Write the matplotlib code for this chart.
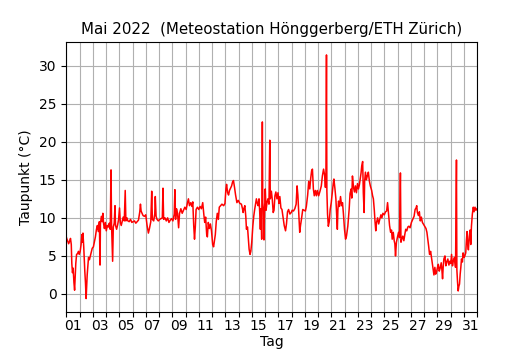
import numpy as np
import matplotlib
matplotlib.use("Agg")
import matplotlib.pyplot as plt

# Tag seit 1. Mai 00:00 und Taupunkt in °C
tage = [
    0.00, 0.05, 0.10, 0.18, 0.25, 0.32, 0.38, 0.42, 0.47, 0.52, 0.58, 0.63, 0.68, 0.72, 0.78, 0.85, 0.92, 0.98,
    1.05, 1.12, 1.18, 1.22, 1.26, 1.32, 1.36, 1.40, 1.45, 1.50, 1.54, 1.58, 1.62, 1.68, 1.75, 1.82, 1.90, 1.96,
    2.05, 2.12, 2.20, 2.28, 2.35, 2.42, 2.50, 2.55, 2.58, 2.65, 2.72, 2.76, 2.82, 2.88, 2.95,
    3.02, 3.10, 3.18, 3.25, 3.32, 3.38, 3.42, 3.50, 3.55, 3.62, 3.68, 3.72, 3.80, 3.88, 3.95,
    4.02, 4.08, 4.15, 4.22, 4.30, 4.38, 4.45, 4.50, 4.58, 4.65, 4.75, 4.85, 4.95,
    5.05, 5.15, 5.25, 5.35, 5.45, 5.55, 5.60, 5.65, 5.72, 5.80, 5.90,
    6.00, 6.10, 6.20, 6.28, 6.38, 6.45, 6.50, 6.60, 6.68, 6.72, 6.78, 6.85, 6.95,
    7.05, 7.15, 7.25, 7.30, 7.35, 7.45, 7.55, 7.65, 7.75, 7.85, 7.95,
    8.05, 8.15, 8.20, 8.25, 8.32, 8.40, 8.48, 8.55, 8.65, 8.75, 8.85, 8.95,
    9.05, 9.15, 9.22, 9.30, 9.40, 9.48, 9.55, 9.62, 9.68, 9.74, 9.80, 9.90,
    10.00, 10.10, 10.20, 10.30, 10.38, 10.45, 10.52, 10.60, 10.65, 10.72, 10.80, 10.88, 10.96,
    11.05, 11.12, 11.18, 11.25, 11.32, 11.40, 11.48, 11.55, 11.65, 11.75, 11.88, 11.98,
    12.05, 12.10, 12.18, 12.25, 12.32, 12.40, 12.48, 12.55, 12.62, 12.70, 12.78, 12.88, 12.98,
    13.10, 13.22, 13.30, 13.35, 13.42, 13.48, 13.55, 13.60, 13.68, 13.75, 13.80, 13.87, 13.93,
    14.00, 14.08, 14.15, 14.22, 14.30, 14.35, 14.42, 14.48, 14.55, 14.60, 14.65, 14.70, 14.75, 14.80,
    14.83, 14.88, 14.92, 14.96,
    15.02, 15.08, 15.15, 15.22, 15.30, 15.36, 15.40, 15.48, 15.55, 15.62, 15.68, 15.75, 15.82, 15.90, 15.98,
    16.05, 16.12, 16.20, 16.28, 16.35, 16.45, 16.55, 16.62, 16.70, 16.78, 16.88, 16.98,
    17.05, 17.15, 17.25, 17.35, 17.42, 17.48, 17.55, 17.62, 17.68, 17.75, 17.85, 17.95,
    18.05, 18.12, 18.22, 18.30, 18.38, 18.45, 18.52, 18.58, 18.65, 18.72, 18.80, 18.88, 18.95,
    19.05, 19.15, 19.25, 19.33, 19.42, 19.50, 19.56, 19.60, 19.64, 19.67, 19.72, 19.78, 19.85, 19.92,
    20.00, 20.08, 20.15, 20.20, 20.28, 20.35, 20.42, 20.46, 20.50, 20.55, 20.62, 20.70, 20.78, 20.85, 20.92,
    21.00, 21.08, 21.15, 21.25, 21.35, 21.42, 21.50, 21.55, 21.60, 21.68, 21.75, 21.82, 21.90, 21.98,
    22.05, 22.12, 22.18, 22.25, 22.30, 22.37, 22.42, 22.48, 22.52, 22.58, 22.65, 22.72, 22.80, 22.88, 22.95,
    23.05, 23.12, 23.18, 23.25, 23.30, 23.36, 23.42, 23.50, 23.58, 23.66, 23.75, 23.82, 23.90,
    24.00, 24.10, 24.18, 24.25, 24.32, 24.40, 24.48, 24.55, 24.60, 24.68, 24.75, 24.80, 24.85, 24.92,
    25.00, 25.08, 25.15, 25.22, 25.26, 25.32, 25.40, 25.48, 25.55, 25.62, 25.70, 25.78, 25.85, 25.95,
    26.05, 26.15, 26.25, 26.33, 26.40, 26.45, 26.50, 26.58, 26.65, 26.72, 26.80, 26.88, 26.95,
    27.05, 27.15, 27.22, 27.30, 27.35, 27.42, 27.50, 27.58, 27.65, 27.70, 27.75, 27.82, 27.88, 27.95,
    28.02, 28.08, 28.15, 28.22, 28.30, 28.35, 28.40, 28.45, 28.50, 28.58, 28.65, 28.72, 28.80, 28.88, 28.95,
    29.02, 29.08, 29.15, 29.22, 29.30, 29.38, 29.45, 29.48, 29.53, 29.58, 29.63, 29.68, 29.73, 29.78, 29.83,
    29.90, 29.95,
    30.02, 30.08, 30.15, 30.20, 30.25, 30.30, 30.35, 30.42, 30.48, 30.53, 30.58, 30.65, 30.72, 30.78, 30.85,
    30.92, 31.00,
]
taupunkt = [
    7.5, 7.2, 7.0, 6.6, 6.9, 7.3, 6.5, 4.0, 2.8, 3.4, 1.5, 0.5, 2.5, 4.0, 5.2, 5.3, 5.6, 5.2,
    5.6, 6.5, 7.8, 6.8, 8.0, 6.2, 4.5, 3.0, 1.5, -0.6, 1.0, 2.5, 3.5, 4.8, 4.5, 5.0, 5.6, 6.0,
    6.2, 6.8, 7.5, 8.5, 9.0, 8.2, 9.5, 3.8, 9.2, 10.2, 9.5, 10.6, 9.2, 8.6, 9.4,
    8.3, 9.0, 8.8, 9.3, 8.5, 16.3, 9.0, 4.3, 8.8, 9.3, 11.6, 9.0, 8.5, 9.1, 9.8,
    11.3, 9.4, 9.0, 9.5, 10.1, 9.6, 13.6, 9.6, 10.0, 9.6, 9.5, 9.8, 9.4,
    9.5, 9.6, 9.3, 9.5, 9.7, 10.8, 11.8, 10.9, 10.6, 10.3, 10.2,
    10.4, 9.0, 8.0, 8.6, 9.5, 13.5, 9.8, 9.6, 10.5, 12.8, 10.2, 9.8, 9.6,
    9.8, 9.9, 10.0, 13.9, 9.8, 10.0, 9.6, 10.0, 9.4, 9.7, 9.9,
    9.6, 10.5, 13.7, 9.8, 11.2, 10.6, 8.7, 10.6, 11.2, 10.6, 11.0, 11.4,
    11.1, 12.0, 12.5, 11.6, 12.0, 11.5, 12.1, 9.0, 7.2, 8.8, 11.1, 11.4,
    11.1, 11.5, 11.2, 12.0, 10.5, 9.4, 10.1, 7.8, 7.5, 9.4, 8.6, 9.2, 8.3,
    6.5, 6.2, 6.9, 7.8, 9.5, 10.6, 9.8, 11.4, 11.6, 11.8, 11.6, 11.9,
    13.8, 14.4, 13.3, 13.0, 13.6, 13.9, 14.2, 14.7, 14.9, 14.0, 13.0, 12.0, 12.3,
    11.9, 11.8, 11.2, 10.7, 11.3, 11.6, 10.2, 8.5, 8.8, 7.0, 5.9, 5.2, 5.6,
    6.8, 8.9, 10.2, 11.1, 12.0, 12.5, 11.9, 11.6, 12.5, 10.8, 8.5, 11.2, 7.2, 22.6,
    12.0, 11.0, 7.1, 10.5,
    13.8, 11.0, 12.0, 12.5, 11.8, 20.2, 12.5, 13.5, 12.4, 10.7, 11.0, 12.9, 13.4, 12.5, 13.3,
    11.9, 12.8, 11.3, 11.1, 10.2, 9.0, 8.3, 9.2, 10.8, 11.1, 10.5, 10.7,
    11.0, 10.9, 11.2, 11.8, 14.2, 13.0, 10.5, 8.1, 9.0, 9.8, 11.1, 11.0,
    10.9, 11.5, 13.0, 14.8, 13.8, 15.2, 16.2, 16.4, 13.8, 12.9, 13.6, 12.9, 13.6,
    12.9, 13.5, 14.2, 15.5, 16.4, 15.6, 14.0, 16.0, 31.4, 13.5, 10.5, 8.9, 9.5, 11.1,
    12.0, 13.3, 14.5, 15.1, 13.8, 12.5, 10.0, 8.5, 11.0, 12.2, 11.5, 12.8, 11.6, 12.0, 10.5,
    8.5, 7.2, 7.6, 8.9, 11.1, 13.2, 13.8, 12.6, 15.5, 14.0, 13.4, 14.2, 13.3, 14.5,
    13.8, 14.3, 15.0, 15.9, 16.8, 17.4, 13.3, 10.7, 14.8, 16.0, 15.0, 15.5, 16.0, 14.8, 14.2,
    13.6, 12.9, 12.5, 11.0, 9.6, 8.3, 9.4, 10.0, 9.2, 9.8, 10.4, 10.0, 10.6,
    10.4, 10.8, 10.9, 12.0, 10.6, 9.0, 8.1, 8.4, 7.2, 8.1, 7.0, 6.6, 5.0, 6.8,
    7.5, 8.1, 7.4, 15.9, 6.8, 7.2, 7.6, 7.0, 7.8, 8.5, 8.3, 8.8, 8.9, 8.7,
    9.4, 9.8, 10.2, 11.1, 11.3, 11.6, 10.7, 10.3, 10.8, 9.6, 10.1, 9.4, 9.2,
    8.9, 8.6, 8.1, 7.0, 6.3, 5.2, 5.6, 4.6, 3.8, 3.0, 2.5, 3.5, 2.6, 2.9,
    3.5, 3.9, 3.0, 3.4, 4.1, 3.2, 2.0, 3.6, 4.6, 5.0, 3.7, 4.2, 4.6, 3.8, 4.3,
    4.0, 5.2, 3.7, 4.4, 4.8, 3.5, 17.6, 3.2, 1.6, 0.4, 1.0, 1.3, 2.6, 3.5, 4.6,
    4.2, 5.4,
    4.8, 5.0, 5.4, 7.0, 8.2, 6.5, 5.8, 7.6, 8.4, 6.5, 8.9, 10.5, 11.4, 10.8, 11.4,
    11.0, 11.2,
]

tag_labels = ["%02d" % d for d in range(1, 32, 2)]

fig = plt.figure(figsize=(5.3, 3.5), dpi=100)
ax = fig.add_axes([0.125, 0.11, 0.775, 0.77])

ax.plot(tage, taupunkt, color="red", linewidth=1.1)

ax.set_xlim(0, 31)
ax.set_ylim(-2.3, 33.1)

# Tagesgrenzen als Ticks + Gitter, Beschriftung in Tagesmitte
ax.set_xticks(np.arange(0, 32))
ax.set_xticklabels([])
ax.set_xticks(np.arange(0.5, 31, 2), minor=True)
ax.set_xticklabels(tag_labels, minor=True)
ax.tick_params(axis="x", which="minor", length=0, pad=5.5)
ax.set_yticks(np.arange(0, 31, 5))

ax.grid(True, which="major", color="#b0b0b0", linewidth=0.8)
ax.set_axisbelow(True)

ax.set_title("Mai 2022  (Meteostation Hönggerberg/ETH Zürich)", fontsize=10.8)
ax.set_xlabel("Tag", labelpad=1)
ax.set_ylabel("Taupunkt (°C)")

fig.savefig("out.png", dpi=100)
